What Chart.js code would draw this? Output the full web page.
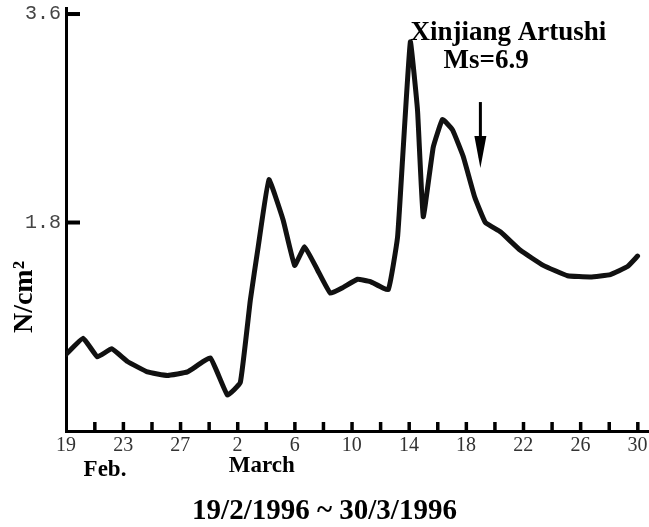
<!DOCTYPE html>
<html>
<head>
<meta charset="utf-8">
<script src="https://cdn.jsdelivr.net/npm/chart.js@4.4.1/dist/chart.umd.min.js"></script>
<style>
html,body{margin:0;padding:0;background:#fff;}
#wrap{width:649px;height:527px;}
</style>
</head>
<body>
<div id="wrap"><canvas id="c" width="649" height="527"></canvas></div>
<script>
// ---- data (days since 19 Feb 1996, value in N/cm^2) ----
const days = [0, 1.2, 2.2, 3.2, 4.3, 5.7, 7.1, 8.5, 10.1, 11.3, 12.2, 12.9, 13.45, 14.2, 15.2, 16.0, 16.7, 17.6, 18.5, 19.4, 20.4, 21.3, 22.55, 23.2, 23.55, 24.1, 24.6, 25.0, 25.7, 26.35, 27.05, 27.8, 28.6, 29.35, 30.4, 31.8, 33.4, 35.1, 36.7, 38.1, 39.3, 40.0];
const values = [0.66, 0.80, 0.64, 0.71, 0.60, 0.51, 0.48, 0.51, 0.63, 0.31, 0.42, 1.13, 1.59, 2.17, 1.82, 1.43, 1.59, 1.39, 1.19, 1.24, 1.31, 1.29, 1.22, 1.67, 2.34, 3.36, 2.77, 1.85, 2.45, 2.69, 2.60, 2.37, 2.02, 1.80, 1.72, 1.56, 1.43, 1.34, 1.33, 1.35, 1.42, 1.51];
const xTickDays = [0, 4, 8, 12, 16, 20, 24, 28, 32, 36, 40];
const xTickLabels = ['19', '23', '27', '2', '6', '10', '14', '18', '22', '26', '30'];
const minorTickDays = [2, 4, 6, 8, 10, 12, 14, 16, 18, 20, 22, 24, 26, 28, 30, 32, 34, 36, 38, 40];
const yTickValues = [1.8, 3.6];
const yTitle = 'N/cm²';
const monthLabels = ['Feb.', 'March'];
const monthLabelDays = [2.73, 13.7];
const quakeLines = ['Xinjiang Artushi', 'Ms=6.9'];
const quakeDay = 29;
const periodTitle = '19/2/1996 ~ 30/3/1996';

const extras = {
  id: 'extras',
  afterDraw(chart) {
    const ctx = chart.ctx;
    const xs = chart.scales.x, ys = chart.scales.y;
    const ca = chart.chartArea;
    ctx.save();
    ctx.fillStyle = '#000';
    // minor x ticks pointing up
    minorTickDays.forEach(d => {
      const px = xs.getPixelForValue(d);
      ctx.fillRect(px - 1.5, ca.bottom - 9, 3.5, 9);
    });
    // y ticks pointing right
    yTickValues.forEach(v => {
      const py = ys.getPixelForValue(v);
      ctx.fillRect(ca.left, py - 2, 14, 4);
    });
    // month labels
    ctx.font = 'bold 23px "Liberation Serif"';
    ctx.textAlign = 'center';
    ctx.textBaseline = 'middle';
    ctx.fillText(monthLabels[0], xs.getPixelForValue(monthLabelDays[0]), ca.bottom + 39);
    ctx.fillText(monthLabels[1], xs.getPixelForValue(monthLabelDays[1]), ca.bottom + 35);
    // y title rotated
    ctx.save();
    ctx.translate(25, 297);
    ctx.rotate(-Math.PI / 2);
    ctx.font = 'bold 28px "Liberation Serif"';
    ctx.fillText(yTitle, 0, 0);
    ctx.restore();
    // quake annotation
    ctx.font = 'bold 27px "Liberation Serif"';
    ctx.fillText(quakeLines[0], xs.getPixelForValue(30.96), ys.getPixelForValue(3.44));
    ctx.fillText(quakeLines[1], xs.getPixelForValue(29.4), ys.getPixelForValue(3.19));
    // arrow
    const ax = xs.getPixelForValue(quakeDay);
    const y0 = ys.getPixelForValue(2.84), y1 = ys.getPixelForValue(2.27);
    ctx.lineWidth = 3;
    ctx.strokeStyle = '#000';
    ctx.beginPath();
    ctx.moveTo(ax, y0);
    ctx.lineTo(ax, y1 - 10);
    ctx.stroke();
    ctx.beginPath();
    ctx.moveTo(ax - 6, y1 - 32);
    ctx.lineTo(ax + 6, y1 - 32);
    ctx.lineTo(ax, y1);
    ctx.closePath();
    ctx.fill();
    ctx.restore();
  }
};

new Chart(document.getElementById('c'), {
  type: 'line',
  data: {
    datasets: [{
      data: days.map((d, i) => ({ x: d, y: values[i] })),
      borderColor: '#111',
      borderWidth: 5,
      pointRadius: 0,
      tension: 0.1,
      borderJoinStyle: 'round',
      borderCapStyle: 'round',
      fill: false
    }]
  },
  options: {
    responsive: false,
    devicePixelRatio: 1,
    animation: false,
    layout: { padding: { top: 8, left: 0, right: 0, bottom: 0 } },
    plugins: {
      legend: { display: false },
      tooltip: { enabled: false },
      title: {
        display: true,
        text: periodTitle,
        position: 'bottom',
        color: '#000',
        font: { family: 'Liberation Serif', size: 29, weight: 'bold', lineHeight: 1 },
        padding: { top: 0, bottom: 1 }
      }
    },
    scales: {
      x: {
        type: 'linear',
        min: 0,
        max: 40.8,
        afterBuildTicks: s => { s.ticks = xTickDays.map(v => ({ value: v })); },
        afterFit: s => { s.height = 66; s.paddingRight = 0; },
        ticks: {
          autoSkip: false,
          maxRotation: 0,
          padding: 3,
          color: '#333',
          font: { family: 'Liberation Serif', size: 20 },
          callback: v => { const i = xTickDays.indexOf(v); return i >= 0 ? xTickLabels[i] : ''; }
        },
        grid: { drawOnChartArea: false, drawTicks: false },
        border: { display: true, width: 3, color: '#000' }
      },
      y: {
        type: 'linear',
        min: 0,
        max: 3.652,
        afterBuildTicks: s => { s.ticks = yTickValues.map(v => ({ value: v })); },
        afterFit: s => { s.width = 66; s.paddingTop = 0; s.paddingBottom = 0; },
        ticks: {
          padding: 5,
          color: '#444',
          font: { family: 'Liberation Mono', size: 20 },
          callback: v => v.toFixed(1)
        },
        grid: { drawOnChartArea: false, drawTicks: false },
        border: { display: true, width: 3, color: '#000' }
      }
    }
  },
  plugins: [extras]
});
</script>
</body>
</html>
